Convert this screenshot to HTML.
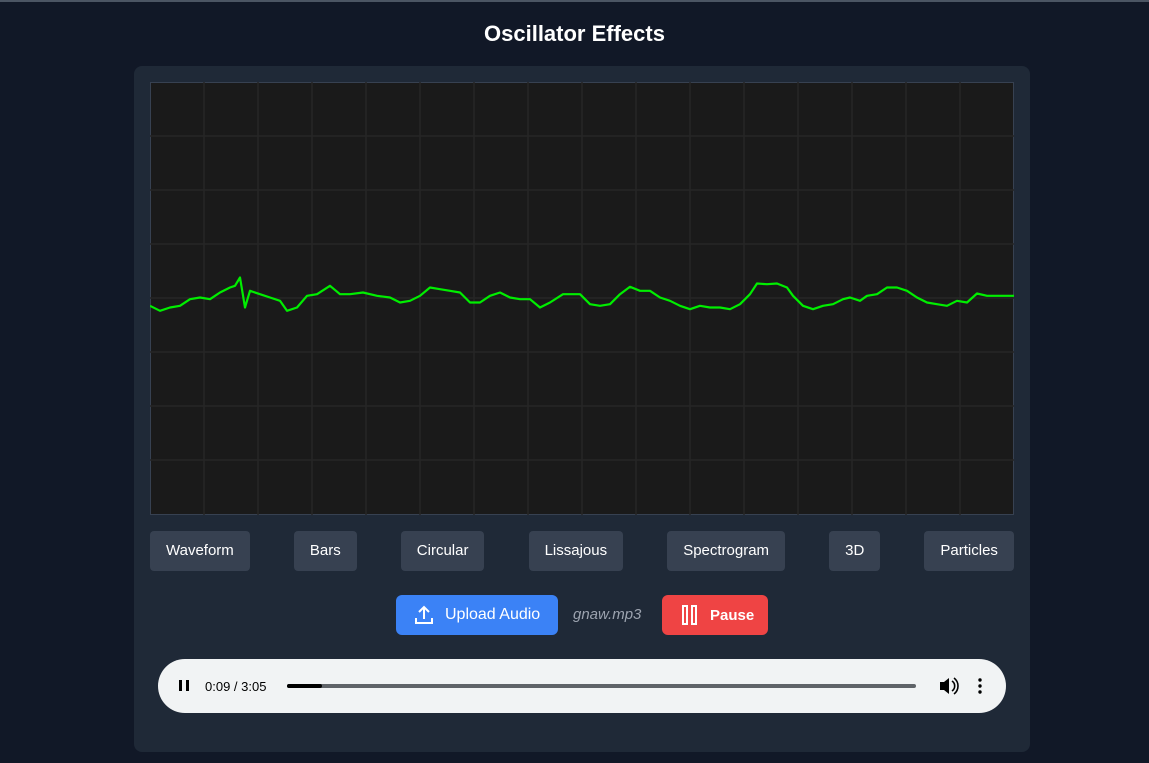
<!DOCTYPE html>
<html><head><meta charset="utf-8"><style>
*{box-sizing:border-box;margin:0;padding:0}
body{width:1149px;height:763px;background:#111827;font-family:"Liberation Sans",sans-serif;position:relative;overflow:hidden}
#topline{position:absolute;left:0;top:0;width:1149px;height:2px;background:#4b5563}
h1{position:absolute;top:21px;left:0;width:1149px;text-align:center;color:#fff;font-size:22px;font-weight:bold}
#panel{position:absolute;left:134px;top:66px;width:896px;height:686px;background:#1f2937;border-radius:8px}
#scope{position:absolute;left:150px;top:82px}
.modes{position:absolute;left:150px;top:531px;width:864px;display:flex;justify-content:space-between}
.modes div{height:40px;line-height:40px;background:#374151;color:#fff;font-size:15px;padding:0 16px;border-radius:4px}
.btn{position:absolute;top:595px;height:40px;border-radius:6px;color:#fff;display:flex;align-items:center}
#player{position:absolute;left:158px;top:659px;width:848px;height:54px;background:#f1f3f4;border-radius:27px}
</style></head><body>
<div id="topline"></div>
<h1>Oscillator Effects</h1>
<div id="panel"></div>
<svg id="scope" width="864" height="433"></svg>
<div class="modes">
<div>Waveform</div>
<div>Bars</div>
<div>Circular</div>
<div>Lissajous</div>
<div>Spectrogram</div>
<div>3D</div>
<div>Particles</div>
</div>
<div class="btn" style="left:396px;width:162px;background:#3b82f6;font-size:16px">
<svg width="22" height="22" viewBox="0 0 22 22" style="margin:0 10px 0 17px" fill="none" stroke="#fff" stroke-width="2"><path d="M11 15V3M6 8l5-5 5 5M3 14v5h16v-5"/></svg>Upload Audio</div>
<div style="position:absolute;left:573px;top:606px;color:#9ca3af;font-style:italic;font-size:15px">gnaw.mp3</div>
<div class="btn" style="left:662px;width:106px;background:#ef4444;font-size:15px;font-weight:bold">
<svg width="16" height="20" style="margin:0 12px 0 20px" fill="none" stroke="#fff" stroke-width="2"><rect x="1" y="1" width="4" height="18"/><rect x="10" y="1" width="4" height="18"/></svg>Pause</div>
<div id="player">
<svg width="848" height="54">
<g><rect x="21" y="21" width="3" height="11" fill="#000"/><rect x="28" y="21" width="3" height="11" fill="#000"/></g>
<text x="47" y="32" font-size="13" fill="#000" font-family="Liberation Sans">0:09 / 3:05</text>
<rect x="129" y="25" width="629" height="4" rx="2" fill="#5f6368"/>
<rect x="129" y="25" width="35" height="4" rx="2" fill="#000"/>
<g><path d="M782 23h4l5-4v16l-5-4h-4z" fill="#000"/><path d="M794 22a6 6 0 0 1 0 10M796 19a10 10 0 0 1 0 16" stroke="#000" stroke-width="1.6" fill="none"/></g>
<g fill="#000"><circle cx="822" cy="21" r="1.7"/><circle cx="822" cy="27" r="1.7"/><circle cx="822" cy="33" r="1.7"/></g>
</svg></div>
<script>
const sampleTimes=[0,10,20,30,40,50,60,70,80,85,90,95,100,110,120,130,137,147,157,167,180,190,200,213,227,240,250,260,270,280,290,300,310,320,330,340,350,360,370,380,390,400,413,423,430,440,450,460,470,480,490,500,510,520,530,540,550,560,570,580,590,600,607,617,627,637,643,653,663,673,683,693,700,710,717,727,737,747,757,767,777,787,797,807,817,827,837,850,860,864];
const amplitudes=[-7.3,-12.3,-9,-7.3,-0.7,1,-0.7,6,11,12.7,21,-9,7.7,4.3,1,-2.3,-12.3,-9,2.7,4.3,12.7,4.3,4.3,6,2.7,1,-4,-2.3,2.7,11,9.3,7.7,6,-4,-4,2.7,6,1,-0.7,-0.7,-9,-4,4.3,4.3,4.3,-5.7,-7.3,-5.7,4.3,11.7,7.7,7.7,1,-2.3,-7.3,-10.7,-7.3,-9,-9,-10.7,-5.7,4.3,15,14.3,15,11,2.7,-7.3,-10.7,-7.3,-5.7,-0.7,1,-2.3,2.7,4.3,11,11,7.7,1,-4,-5.7,-7.3,-2.3,-4,5,2.7,2.7,2.7,2.7];
const W=864,H=433,NS="http://www.w3.org/2000/svg";
const xScale=t=>t/864*W;
const yScale=a=>H/2-a;
const svg=document.getElementById('scope');
const bg=document.createElementNS(NS,'rect');


bg.setAttribute('x',0.5);bg.setAttribute('y',0.5);bg.setAttribute('width',W-1);bg.setAttribute('height',H-1);bg.setAttribute('fill','#1a1a1a');bg.setAttribute('stroke','#374151');
svg.appendChild(bg);
for(let i=1;i<16;i++){const l=document.createElementNS(NS,'line');


l.setAttribute('x1',i*54);l.setAttribute('x2',i*54);l.setAttribute('y1',0);l.setAttribute('y2',H);l.setAttribute('stroke','#262626');l.setAttribute('stroke-width','1.5');svg.appendChild(l);}
for(let i=1;i<8;i++){const l=document.createElementNS(NS,'line');


l.setAttribute('y1',i*54);l.setAttribute('y2',i*54);l.setAttribute('x1',0);l.setAttribute('x2',W);l.setAttribute('stroke','#262626');l.setAttribute('stroke-width','1.5');svg.appendChild(l);}
const p=document.createElementNS(NS,'polyline');


p.setAttribute('points',sampleTimes.map((t,i)=>xScale(t)+','+yScale(amplitudes[i])).join(' '));
p.setAttribute('fill','none');p.setAttribute('stroke','#00ee00');p.setAttribute('stroke-width','2.2');p.setAttribute('stroke-linejoin','round');
svg.appendChild(p);
</script>
</body></html>
